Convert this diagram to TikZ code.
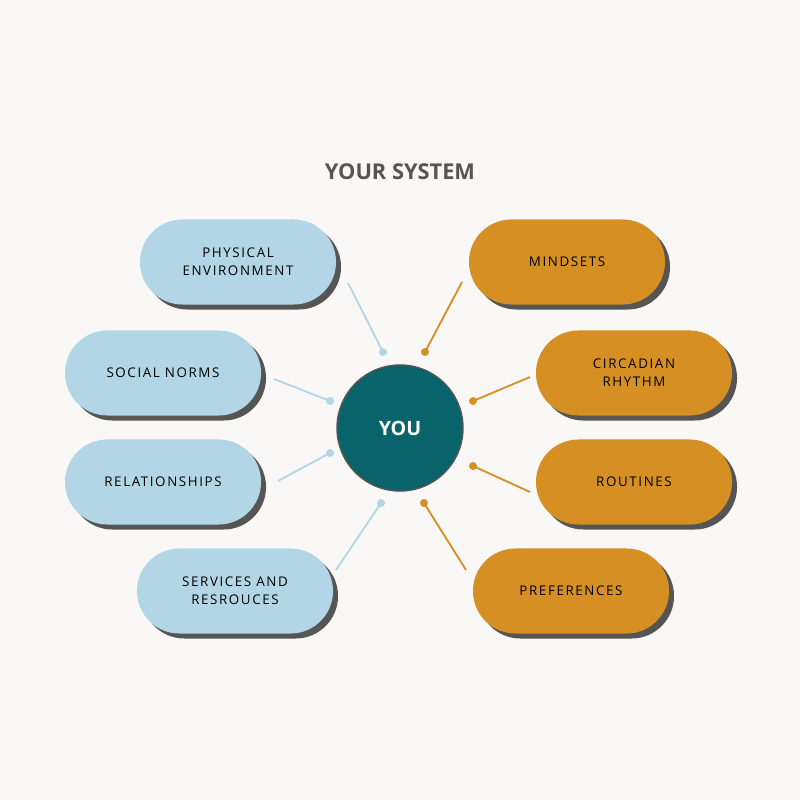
\documentclass[tikz,border=0pt]{standalone}
\usepackage{fontspec}
\setmainfont{Open Sans}
\usetikzlibrary{positioning}
\definecolor{paper}{RGB}{250,248,246}
\definecolor{skyblue}{RGB}{179,214,230}
\definecolor{amber}{RGB}{214,143,34}
\definecolor{teal}{RGB}{8,100,106}
\definecolor{shade}{RGB}{85,85,85}
\tikzset{
  pill/.style={rounded corners=1.06cm, minimum width=4.9cm, minimum height=2.125cm, align=center,
    font=\fontsize{9.5}{13}\selectfont\addfontfeature{LetterSpace=12}},
  leftpill/.style={pill, fill=skyblue},
  rightpill/.style={pill, fill=amber},
  shadowpill/.style={rounded corners=1.06cm, minimum width=4.9cm, minimum height=2.125cm, fill=shade},
  link/.style={line width=1.3pt},
  dot/.style={circle, inner sep=0pt, minimum size=0.2cm},
}
\begin{document}
\begin{tikzpicture}[x=0.025cm,y=-0.025cm]
    % background
    \fill[paper] (0,0) rectangle (800,800);
    \useasboundingbox (0,0) rectangle (800,800);

    % title
    \node[font=\fontsize{15.5}{18}\selectfont\bfseries, text=shade] (title) at (400,172) {YOUR SYSTEM};

    % shadows
    \foreach \x/\y in {238/262, 163/373, 163/482, 235/591, 567/262, 634/373, 634/482, 571/591}
        \node[shadowpill] at (\x+5,\y+5) {};

    % left pills
    \node[leftpill] (phys) at (238,262) {PHYSICAL\\ENVIRONMENT};
    \node[leftpill] (norms) at (163,373) {SOCIAL NORMS};
    \node[leftpill] (rel) at (163,482) {RELATIONSHIPS};
    \node[leftpill] (serv) at (235,591) {SERVICES AND\\RESROUCES};

    % right pills
    \node[rightpill] (mind) at (567,262) {MINDSETS};
    \node[rightpill] (circ) at (634,373) {CIRCADIAN\\RHYTHM};
    \node[rightpill] (rout) at (634,482) {ROUTINES};
    \node[rightpill] (pref) at (571,591) {PREFERENCES};

    % centre
    \node[circle, fill=teal, draw=shade, line width=1pt, minimum size=3.15cm, text=white,
          font=\fontsize{14}{16}\selectfont\bfseries] (you) at (400,428) {YOU};

    % connectors
    \foreach \name/\sx/\sy/\ex/\ey/\col in {
        a/348/283/383/352/skyblue, b/274/379/330/401/skyblue,
        c/278/481/330/453/skyblue, d/336/570/381/503/skyblue,
        e/462/282/425/352/amber, f/530/377/473/401/amber,
        g/530/492/473/466/amber, h/466/570/424/503/amber} {
        \coordinate (\name from) at (\sx,\sy);
        \node[dot, fill=\col] (\name to) at (\ex,\ey) {};
        \draw[link, \col] (\name from) -- (\name to.center);
    }
\end{tikzpicture}
\end{document}
